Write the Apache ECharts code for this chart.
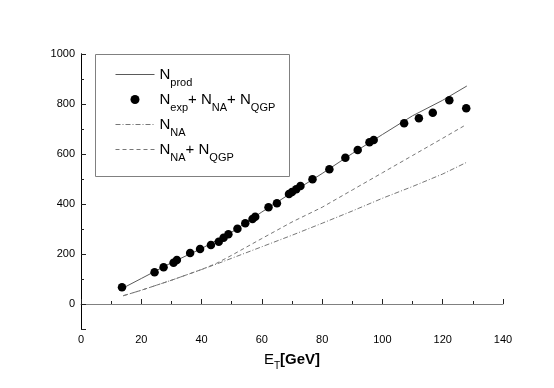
<!DOCTYPE html>
<html>
<head>
<meta charset="utf-8">
<script src="https://cdn.jsdelivr.net/npm/echarts@6/dist/echarts.min.js"></script>
<style>
html,body{margin:0;padding:0;background:#fff;}
#c{width:554px;height:388px;}
</style>
</head>
<body>
<div id="c"></div>
<script>
// Data
var expX = [13.6, 24.4, 27.4, 30.7, 31.8, 36.2, 39.5, 43.1, 45.7, 47.3, 48.9, 51.9, 54.5, 56.9, 57.8, 62.2, 65.0, 69.0, 70.0, 71.4, 72.8, 76.8, 82.4, 87.7, 91.8, 95.7, 97.1, 107.2, 112.1, 116.7, 122.2, 127.8];
var expY = [67, 127, 147, 165, 176, 204, 220, 236, 249, 265, 279, 301, 323, 340, 349, 387, 403, 440, 448, 459, 472, 499, 539, 585, 616, 647, 656, 723, 743, 765, 815, 783];

var prodX = [13, 20, 30, 40, 50, 60, 70, 80, 90, 100, 110, 120, 128];
var prodY = [58, 102, 165, 222, 287, 368, 446, 522, 602, 678, 753, 815, 872];

var naQgpX = [14, 20, 30, 40, 45, 50, 60, 70, 80, 90, 100, 110, 120, 127];
var naQgpY = [33, 55, 95, 138, 163, 195, 262, 328, 387, 456, 525, 594, 663, 712];

var naX = [14, 20, 30, 40, 45, 50, 60, 70, 80, 90, 100, 110, 120, 128];
var naY = [33, 55, 95, 138, 160, 183, 229, 275, 323, 372, 423, 470, 520, 567];

var xTicks = [0, 20, 40, 60, 80, 100, 120, 140];
var yTicks = [0, 200, 400, 600, 800, 1000];

var legendLabels = {
  prod: '{n|N}{s|prod}',
  exp: '{n|N}{s|exp}{p|+ }{n|N}{s|NA}{p|+ }{n|N}{s|QGP}',
  na: '{n|N}{s|NA}',
  naqgp: '{n|N}{s|NA}{p|+ }{n|N}{s|QGP}'
};

function zip(a, b) { return a.map(function (v, i) { return [v, b[i]]; }); }

var chart = echarts.init(document.getElementById('c'), null, {renderer: 'canvas'});
var FONT = 'Liberation Sans, Arial, Helvetica, sans-serif';

chart.setOption({
  animation: false,
  backgroundColor: '#fff',
  textStyle: {fontFamily: FONT},
  grid: {left: 81, right: 51, top: 54, bottom: 59, containLabel: false},
  graphic: [{
    type: 'rect',
    z: 10,
    shape: {x: 95.5, y: 54.5, width: 194, height: 122},
    style: {fill: 'none', stroke: '#808080', lineWidth: 1}
  }],
  legend: {
    orient: 'vertical',
    left: 115,
    top: 67,
    padding: 0,
    itemWidth: 39,
    itemHeight: 9,
    itemGap: 4,
    lineStyle: {width: 1},
    data: [
      {name: 'prod', itemStyle: {opacity: 0}},
      {name: 'exp', icon: 'circle', itemStyle: {color: '#000', opacity: 1}},
      {name: 'na', itemStyle: {opacity: 0}},
      {name: 'naqgp', itemStyle: {opacity: 0}}
    ],
    formatter: function (name) { return legendLabels[name]; },
    textStyle: {
      color: '#000',
      fontFamily: FONT,
      rich: {
        n: {fontSize: 15, fontFamily: FONT, color: '#000'},
        p: {fontSize: 15, fontFamily: FONT, color: '#000'},
        s: {fontSize: 11, fontFamily: FONT, color: '#000', padding: [16, 0, 0, 0]}
      }
    }
  },
  xAxis: {
    type: 'value',
    min: xTicks[0],
    max: xTicks[xTicks.length - 1],
    interval: 20,
    name: '{e|E}{t|T}{g|[GeV]}',
    nameLocation: 'middle',
    nameGap: 20,
    nameTextStyle: {
      rich: {
        e: {fontSize: 15, fontFamily: FONT, color: '#000'},
        t: {fontSize: 10, fontFamily: FONT, color: '#000', padding: [12, 0, 0, 0]},
        g: {fontSize: 15, fontFamily: FONT, fontWeight: 'bold', color: '#000'}
      }
    },
    axisLine: {show: true, lineStyle: {color: '#808080', width: 1}},
    axisTick: {show: true, inside: true, length: 5, lineStyle: {color: '#222'}},
    minorTick: {show: true, splitNumber: 2, length: 3, lineStyle: {color: '#222'}},
    axisLabel: {fontSize: 11, color: '#000', margin: 5, fontFamily: FONT},
    splitLine: {show: false},
    minorSplitLine: {show: false}
  },
  yAxis: [{
    type: 'value',
    min: -100,
    max: 1000,
    interval: 100,
    position: 'left',
    axisLine: {show: true, onZero: false, lineStyle: {color: '#000', width: 1}},
    axisTick: {show: true, inside: true, length: 3, lineStyle: {color: '#222'}},
    axisLabel: {show: false},
    splitLine: {show: false}
  }, {
    type: 'value',
    inverse: true,
    min: 0,
    max: 1100,
    interval: 200,
    position: 'left',
    axisLine: {show: true, onZero: false, lineStyle: {color: '#000', width: 1}},
    axisTick: {show: true, inside: true, length: 5, lineStyle: {color: '#222'}},
    axisLabel: {
      fontSize: 11, color: '#000', margin: 6, fontFamily: FONT,
      formatter: function (v) {
        var real = 1000 - v;
        return yTicks.indexOf(real) >= 0 ? String(real) : '';
      }
    },
    splitLine: {show: false}
  }],
  series: [{
    name: 'prod',
    type: 'line',
    yAxisIndex: 0,
    symbol: 'none',
    data: zip(prodX, prodY),
    lineStyle: {color: '#5a5a5a', width: 1, type: 'solid'},
    itemStyle: {color: '#5a5a5a'},
    z: 3
  }, {
    name: 'exp',
    type: 'scatter',
    yAxisIndex: 0,
    symbol: 'circle',
    symbolSize: 8.5,
    data: zip(expX, expY),
    itemStyle: {color: '#000', opacity: 1},
    z: 4
  }, {
    name: 'na',
    type: 'line',
    yAxisIndex: 0,
    symbol: 'none',
    data: zip(naX, naY),
    lineStyle: {color: '#777', width: 1, type: [5, 2, 1, 2]},
    itemStyle: {color: '#777'},
    z: 2
  }, {
    name: 'naqgp',
    type: 'line',
    yAxisIndex: 0,
    symbol: 'none',
    data: zip(naQgpX, naQgpY),
    lineStyle: {color: '#777', width: 1, type: [4, 3]},
    itemStyle: {color: '#777'},
    z: 2
  }]
});
</script>
</body>
</html>
